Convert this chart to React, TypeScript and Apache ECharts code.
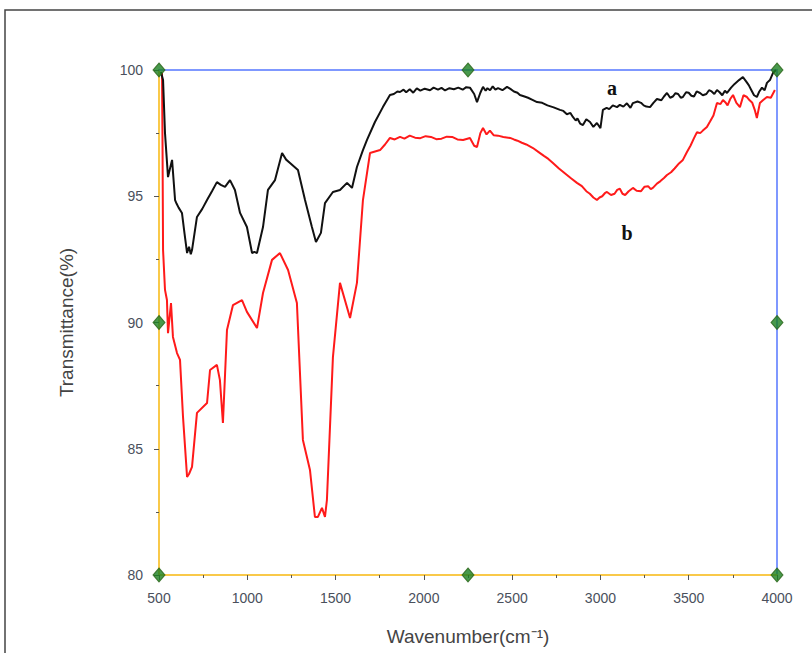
import React, { useEffect, useRef } from "react";
import * as echarts from "echarts";

// Curve a (black)
const wavenumberA = [511, 523, 534, 551, 574, 591, 600, 611, 630, 645, 659, 670, 680, 687, 715, 745, 772, 800, 828, 850, 874, 902, 930, 959, 998, 1027, 1040, 1055, 1089, 1117, 1157, 1197, 1220, 1242, 1287, 1327, 1366, 1389, 1417, 1440, 1485, 1525, 1565, 1593, 1621, 1655, 1678, 1723, 1768, 1808, 1830, 1850, 1865, 1885, 1900, 1920, 1940, 1960, 1980, 2005, 2035, 2055, 2080, 2100, 2120, 2145, 2170, 2195, 2220, 2240, 2261, 2285, 2301, 2320, 2335, 2350, 2360, 2375, 2390, 2405, 2420, 2445, 2471, 2490, 2510, 2530, 2544, 2570, 2590, 2615, 2641, 2670, 2700, 2735, 2771, 2790, 2810, 2830, 2844, 2860, 2870, 2885, 2901, 2920, 2941, 2960, 2980, 3000, 3014, 3035, 3050, 3070, 3094, 3110, 3130, 3150, 3170, 3184, 3210, 3230, 3245, 3260, 3281, 3300, 3320, 3345, 3360, 3377, 3395, 3410, 3425, 3440, 3455, 3467, 3485, 3500, 3515, 3530, 3545, 3564, 3580, 3600, 3615, 3630, 3645, 3660, 3675, 3690, 3705, 3717, 3740, 3760, 3785, 3807, 3825, 3840, 3855, 3870, 3886, 3900, 3915, 3930, 3943, 3960, 3977, 3994];
const transmittanceA = [99.92, 99.6, 97.5, 95.76, 96.44, 94.85, 94.7, 94.55, 94.34, 93.5, 92.75, 93.0, 92.7, 92.87, 94.18, 94.5, 94.85, 95.2, 95.56, 95.45, 95.37, 95.64, 95.25, 94.34, 93.78, 92.75, 92.8, 92.75, 93.78, 95.25, 95.64, 96.71, 96.45, 96.32, 96.04, 94.85, 93.78, 93.19, 93.55, 94.73, 95.17, 95.25, 95.53, 95.33, 96.16, 96.83, 97.23, 97.94, 98.53, 99.01, 99.05, 99.15, 99.13, 99.22, 99.12, 99.24, 99.1, 99.27, 99.18, 99.26, 99.2, 99.3, 99.22, 99.29, 99.19, 99.28, 99.24, 99.3, 99.22, 99.32, 99.3, 99.05, 98.73, 99.1, 99.33, 99.18, 99.28, 99.2, 99.35, 99.22, 99.28, 99.2, 99.33, 99.25, 99.15, 99.1, 99.01, 98.95, 98.9, 98.82, 98.73, 98.7, 98.6, 98.52, 98.42, 98.38, 98.25, 98.3, 98.14, 98.0, 98.08, 97.88, 97.82, 98.05, 97.94, 97.75, 97.9, 97.7, 98.42, 98.5, 98.45, 98.6, 98.53, 98.62, 98.55, 98.68, 98.5, 98.69, 98.75, 98.7, 98.6, 98.55, 98.53, 98.7, 98.85, 98.8, 98.95, 99.09, 98.9, 98.95, 99.08, 99.05, 98.9, 98.93, 99.12, 99.1, 98.98, 98.95, 99.15, 99.09, 99.0, 99.05, 99.2, 99.15, 99.05, 99.21, 99.12, 99.0, 99.18, 99.09, 99.3, 99.45, 99.6, 99.72, 99.55, 99.4, 99.2, 99.0, 98.93, 99.15, 99.3, 99.2, 99.49, 99.6, 99.88, 100];

// Curve b (red)
const wavenumberB = [517, 520, 523, 534, 545, 551, 568, 579, 602, 619, 636, 659, 670, 687, 715, 772, 789, 828, 845, 862, 885, 919, 970, 998, 1055, 1089, 1140, 1185, 1231, 1281, 1315, 1355, 1383, 1400, 1423, 1440, 1451, 1485, 1525, 1582, 1621, 1655, 1695, 1752, 1780, 1808, 1835, 1865, 1890, 1920, 1950, 1980, 2010, 2040, 2070, 2100, 2130, 2160, 2190, 2222, 2261, 2285, 2301, 2320, 2335, 2355, 2374, 2395, 2420, 2450, 2488, 2510, 2530, 2555, 2580, 2618, 2650, 2680, 2705, 2731, 2765, 2800, 2835, 2867, 2895, 2920, 2940, 2960, 2980, 2995, 3010, 3025, 3037, 3060, 3080, 3095, 3110, 3125, 3140, 3160, 3184, 3205, 3230, 3250, 3270, 3285, 3297, 3320, 3340, 3360, 3377, 3400, 3420, 3445, 3467, 3490, 3510, 3530, 3547, 3565, 3580, 3603, 3620, 3640, 3660, 3680, 3694, 3710, 3720, 3735, 3751, 3770, 3790, 3810, 3830, 3845, 3860, 3875, 3886, 3903, 3920, 3943, 3965, 3988];
const transmittanceB = [99.88, 97.0, 92.87, 91.29, 90.89, 89.58, 90.77, 89.43, 88.79, 88.52, 86.26, 83.88, 84.0, 84.28, 86.42, 86.81, 88.12, 88.32, 87.72, 86.02, 89.7, 90.69, 90.89, 90.42, 89.78, 91.17, 92.48, 92.75, 92.08, 90.77, 85.35, 84.16, 82.3, 82.3, 82.66, 82.3, 82.97, 88.63, 91.57, 90.18, 91.57, 94.85, 96.71, 96.83, 97.05, 97.31, 97.25, 97.35, 97.28, 97.4, 97.32, 97.3, 97.38, 97.35, 97.26, 97.28, 97.36, 97.35, 97.25, 97.23, 97.31, 97.0, 96.95, 97.5, 97.7, 97.45, 97.6, 97.42, 97.4, 97.35, 97.31, 97.25, 97.2, 97.12, 97.05, 96.91, 96.75, 96.6, 96.48, 96.32, 96.1, 95.9, 95.7, 95.53, 95.4, 95.2, 95.1, 94.95, 94.85, 94.95, 95.0, 95.12, 95.17, 95.05, 95.1, 95.25, 95.3, 95.1, 95.05, 95.2, 95.33, 95.22, 95.2, 95.38, 95.4, 95.28, 95.33, 95.5, 95.6, 95.72, 95.84, 95.95, 96.1, 96.3, 96.44, 96.75, 97.0, 97.3, 97.54, 97.5, 97.6, 97.74, 97.95, 98.2, 98.69, 98.65, 98.81, 98.7, 98.6, 98.85, 99.01, 98.7, 98.53, 99.0, 98.93, 98.8, 98.7, 98.4, 98.1, 98.69, 98.8, 98.93, 98.9, 99.21];

const xTicks = [500, 1000, 1500, 2000, 2500, 3000, 3500, 4000];
const yTicks = [80, 85, 90, 95, 100];
const cornerMarkersX = [500, 2250, 4000, 500, 4000, 500, 2250, 4000];
const cornerMarkersY = [100, 100, 100, 90, 90, 80, 80, 80];

export default function App() {
  const ref = useRef<HTMLDivElement>(null);
  useEffect(() => {
    if (!ref.current) return;
    const chart = echarts.init(ref.current, null, { renderer: "svg" });
    const labelStyle = {
      color: "#4a505c",
      fontSize: 14,
      fontFamily: "Liberation Sans, Arial, sans-serif",
      formatter: (v: number) => String(v),
    };
    chart.setOption({
      animation: false,
      backgroundColor: "#ffffff",
      grid: { left: 159, top: 70, right: 35, bottom: 78, containLabel: false },
      xAxis: [
        {
          type: "value",
          min: xTicks[0],
          max: xTicks[xTicks.length - 1],
          interval: 500,
          position: "bottom",
          axisLine: { show: true, lineStyle: { color: "#f9c94a", width: 2 } },
          axisTick: { show: true, length: 5, lineStyle: { color: "#555", width: 1 } },
          minorTick: { show: true, splitNumber: 2, length: 3, lineStyle: { color: "#555" } },
          axisLabel: { ...labelStyle, margin: 16 },
          splitLine: { show: false },
          name: "Wavenumber(cm\u207B\u00B9)",
          nameLocation: "middle",
          nameGap: 52,
          nameTextStyle: { color: "#444", fontSize: 19, fontFamily: "Liberation Sans, Arial, sans-serif" },
        },
        {
          type: "value",
          min: xTicks[0],
          max: xTicks[xTicks.length - 1],
          position: "top",
          axisLine: { show: true, lineStyle: { color: "#7f98ff", width: 2 } },
          axisTick: { show: false },
          axisLabel: { show: false },
          splitLine: { show: false },
        },
      ],
      yAxis: [
        {
          type: "value",
          min: yTicks[0],
          max: yTicks[yTicks.length - 1],
          interval: 5,
          position: "left",
          axisLine: { show: true, lineStyle: { color: "#f9c94a", width: 2 } },
          axisTick: { show: true, length: 5, lineStyle: { color: "#555", width: 1 } },
          minorTick: { show: true, splitNumber: 2, length: 3, lineStyle: { color: "#555" } },
          axisLabel: { ...labelStyle, margin: 16 },
          splitLine: { show: false },
          name: "Transmittance(%)",
          nameLocation: "middle",
          nameGap: 83,
          nameTextStyle: { color: "#444", fontSize: 19, fontFamily: "Liberation Sans, Arial, sans-serif" },
        },
        {
          type: "value",
          min: yTicks[0],
          max: yTicks[yTicks.length - 1],
          position: "right",
          axisLine: { show: true, lineStyle: { color: "#7f98ff", width: 2 } },
          axisTick: { show: false },
          axisLabel: { show: false },
          splitLine: { show: false },
        },
      ],
      series: [
        {
          name: "a",
          type: "line",
          data: wavenumberA.map((w, i) => [w, transmittanceA[i]]),
          showSymbol: false,
          lineStyle: { color: "#111", width: 2 },
          z: 3,
        },
        {
          name: "b",
          type: "line",
          data: wavenumberB.map((w, i) => [w, transmittanceB[i]]),
          showSymbol: false,
          lineStyle: { color: "#ff1a1a", width: 2 },
          z: 2,
        },
        {
          name: "markers",
          type: "scatter",
          data: cornerMarkersX.map((x, i) => [x, cornerMarkersY[i]]),
          symbol: "diamond",
          symbolSize: [12, 14],
          itemStyle: { color: "#1a8020", borderColor: "#2a6418", borderWidth: 1 },
          z: 5,
        },
      ],
      graphic: [
        {
          type: "rect",
          shape: { x: 5, y: 10, width: 830, height: 670 },
          style: { fill: "none", stroke: "#444", lineWidth: 1.5 },
          silent: true,
        },
        {
          type: "text",
          x: 612,
          y: 88,
          style: { text: "a", fill: "#111", font: "bold 20px 'Liberation Serif', 'Times New Roman', serif", textAlign: "center", textVerticalAlign: "middle" },
        },
        {
          type: "text",
          x: 627,
          y: 233,
          style: { text: "b", fill: "#111", font: "bold 20px 'Liberation Serif', 'Times New Roman', serif", textAlign: "center", textVerticalAlign: "middle" },
        },
      ],
    });
    return () => chart.dispose();
  }, []);
  return (
    <div
      ref={ref}
      style={{ position: "fixed", left: 0, top: 0, width: 812, height: 653, background: "#fff" }}
    />
  );
}
